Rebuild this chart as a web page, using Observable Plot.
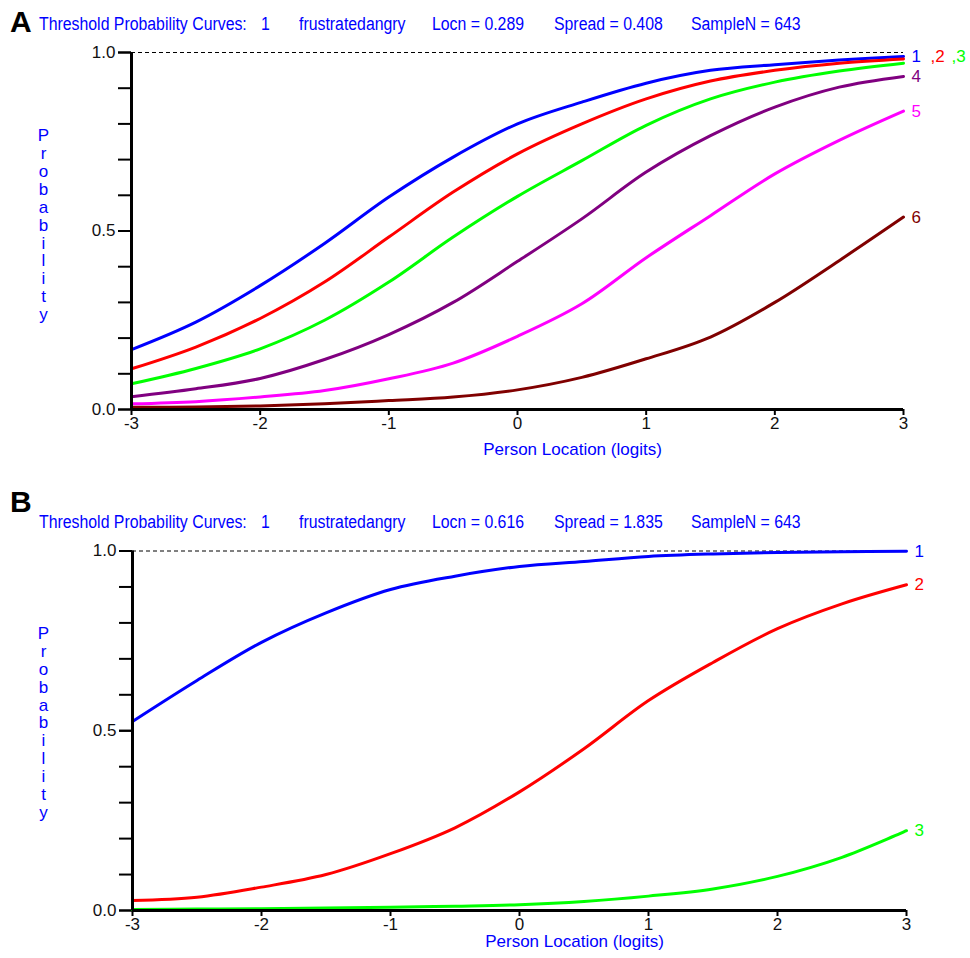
<!DOCTYPE html>
<html>
<head>
<meta charset="utf-8">
<script src="https://cdn.jsdelivr.net/npm/d3@7"></script>
<script src="https://cdn.jsdelivr.net/npm/@observablehq/plot@0.6"></script>
<style>
  body { margin: 0; background: #fff; }
  #wrap { position: relative; width: 970px; height: 958px; overflow: hidden; font-family: "Liberation Sans", Arial, sans-serif; }
  .panel { position: absolute; left: 10px; font-weight: bold; font-size: 30px; line-height: 30px; color: #000; }
  .t { position: absolute; color: #0000ff; font-size: 18px; line-height: 18px; white-space: pre; transform: scaleX(0.88); transform-origin: 0 0; }
  .plot { position: absolute; left: 0; }
</style>
</head>
<body>
<div id="wrap"></div>
<script>
// ---------- data ----------
const xLogits = [-3, -2.5, -2, -1.5, -1, -0.5, 0, 0.5, 1, 1.5, 2, 2.5, 3];

// Panel A : six threshold curves
const thresholdsA = ["1", "2", "3", "4", "5", "6"];
const a1 = [0.168, 0.245, 0.347, 0.465, 0.595, 0.707, 0.800, 0.861, 0.914, 0.950, 0.966, 0.979, 0.989];
const a2 = [0.114, 0.175, 0.255, 0.357, 0.483, 0.609, 0.716, 0.800, 0.870, 0.920, 0.950, 0.970, 0.982];
const a3 = [0.072, 0.115, 0.170, 0.250, 0.357, 0.483, 0.597, 0.697, 0.796, 0.870, 0.917, 0.948, 0.970];
const a4 = [0.036, 0.058, 0.087, 0.140, 0.210, 0.300, 0.415, 0.534, 0.665, 0.767, 0.847, 0.903, 0.933];
const a5 = [0.016, 0.022, 0.035, 0.053, 0.086, 0.130, 0.205, 0.296, 0.425, 0.543, 0.660, 0.754, 0.836];
const a6 = [0.006, 0.007, 0.010, 0.016, 0.025, 0.035, 0.055, 0.090, 0.142, 0.203, 0.300, 0.417, 0.539];
const seriesA = [a1, a2, a3, a4, a5, a6];
const endLabelsA = ["1", ",2", ",3", "4", "5", "6"];
const endLabelKeysA = ["1", "2", "3", "4", "5", "6"];
const endLabelAnchorA = [0, 0, 0, 3, 4, 5];   // which curve's end each label sits beside

// Panel B : three threshold curves
const thresholdsB = ["1", "2", "3"];
const b1 = [0.526, 0.640, 0.746, 0.828, 0.893, 0.930, 0.957, 0.971, 0.985, 0.992, 0.996, 0.998, 0.999];
const b2 = [0.028, 0.037, 0.065, 0.100, 0.158, 0.230, 0.330, 0.450, 0.584, 0.690, 0.784, 0.853, 0.906];
const b3 = [0.003, 0.004, 0.005, 0.007, 0.009, 0.012, 0.016, 0.025, 0.040, 0.060, 0.095, 0.148, 0.222];
const seriesB = [b1, b2, b3];
const endLabelsB = ["1", "2", "3"];
const endLabelKeysB = ["1", "2", "3"];
const endLabelAnchorB = [0, 1, 2];

// axes / text
const xTicks = [-3, -2, -1, 0, 1, 2, 3];
const xTickLabels = ["-3", "-2", "-1", "0", "1", "2", "3"];
const yMajorTicks = [0, 0.5, 1];
const yMajorLabels = ["0.0", "0.5", "1.0"];
const yMinorTicks = [0, 0.1, 0.2, 0.3, 0.4, 0.5, 0.6, 0.7, 0.8, 0.9, 1.0];
const xTitle = "Person Location (logits)";
const yTitle = "Probability";
const titleA = ["Threshold Probability Curves:", "1", "frustratedangry", "Locn = 0.289", "Spread = 0.408", "SampleN = 643"];
const titleB = ["Threshold Probability Curves:", "1", "frustratedangry", "Locn = 0.616", "Spread = 1.835", "SampleN = 643"];
const panelLetters = ["A", "B"];

// ---------- styles ----------
const palette = ["#0000ff", "#ff0000", "#00ff00", "#800080", "#ff00ff", "#800000"];
const BLUE = "#0000ff";
const labelDxA = [8, 27, 48, 8, 8, 8];
const labelDxB = [8, 8, 8];
const titleLefts = [39, 261, 299, 432, 554, 691];

function rowsFrom(series, names) {
  const rows = [];
  series.forEach((vals, k) => vals.forEach((p, i) => rows.push({x: xLogits[i], p, k: names[k]})));
  return rows;
}

function makePlot({series, names, labels, labelKeys, labelAnchor, labelDx, geom}) {
  const last = xLogits.length - 1;
  const endData = labels.map((t, i) => ({t, k: labelKeys[i], anchor: labelAnchor[i], dx: labelDx[i]}));
  return Plot.plot({
    width: 970,
    height: 420,
    marginLeft: geom.ml, marginRight: geom.mr, marginTop: geom.mt, marginBottom: geom.mb,
    x: {domain: [xLogits[0], xLogits[last]]},
    y: {domain: [0, 1]},
    color: {domain: thresholdsA, range: palette},
    style: {fontFamily: '"Liberation Sans", Arial, sans-serif', background: "transparent", overflow: "visible"},
    marks: [
      Plot.ruleY([yMajorTicks[2]], {stroke: "#000", strokeWidth: 1, strokeDasharray: "4,3"}),
      Plot.axisY({ticks: yMinorTicks, tickSize: 13, tickFormat: () => "", stroke: "#000", strokeWidth: 2, label: null}),
      Plot.axisY({ticks: yMajorTicks, tickSize: 13, tickPadding: 3, tickFormat: d => yMajorLabels[yMajorTicks.indexOf(d)],
                  fontSize: 17, fill: "#111", stroke: "#000", strokeWidth: 2, label: null}),
      Plot.axisX({ticks: xTicks, tickSize: 6, tickPadding: 1, tickFormat: d => xTickLabels[xTicks.indexOf(d)],
                  fontSize: 17, fill: "#111", stroke: "#000", strokeWidth: 2, label: null}),
      Plot.line(rowsFrom(series, names), {x: "x", y: "p", z: "k", stroke: "k", strokeWidth: 3, curve: "catmull-rom"}),
      Plot.ruleY([yMajorTicks[0]], {stroke: "#000", strokeWidth: 3}),
      Plot.ruleX([xTicks[0]], {stroke: "#000", strokeWidth: 3}),
      ...endData.map(d => Plot.text([d], {
        x: () => xLogits[last],
        y: e => series[e.anchor][last],
        text: "t", fill: "k", fontSize: 17, textAnchor: "start", dx: d.dx
      })),
      Plot.text([yTitle.split("").join("\n")], {
        frameAnchor: "left", dx: geom.yTitleDx, dy: geom.yTitleDy, textAnchor: "middle", lineAnchor: "middle",
        lineHeight: 1.05, fontSize: 17, fill: BLUE
      }),
      Plot.text([xTitle], {
        frameAnchor: "bottom", dx: geom.xTitleDx, dy: geom.xTitleDy, textAnchor: "middle", lineAnchor: "middle",
        fontSize: 17, fill: BLUE
      })
    ]
  });
}

const wrap = document.getElementById("wrap");

function addTitle(parts, top) {
  parts.forEach((p, i) => {
    const s = document.createElement("div");
    s.className = "t";
    s.style.left = titleLefts[i] + "px";
    s.style.top = top + "px";
    s.textContent = p;
    wrap.appendChild(s);
  });
}
function addLetter(letter, top) {
  const d = document.createElement("div");
  d.className = "panel";
  d.style.top = top + "px";
  d.textContent = letter;
  wrap.appendChild(d);
}

addLetter(panelLetters[0], 7);
addTitle(titleA, 15);
const plotA = makePlot({
  series: seriesA, names: thresholdsA, labels: endLabelsA, labelKeys: endLabelKeysA,
  labelAnchor: endLabelAnchorA, labelDx: labelDxA,
  geom: {ml: 131, mr: 67, mt: 12, mb: 51, yTitleDx: -88, yTitleDy: -6, xTitleDx: 55, xTitleDy: 40}
});
plotA.classList.add("plot");
plotA.style.top = "40px";
wrap.appendChild(plotA);

addLetter(panelLetters[1], 487);
addTitle(titleB, 513);
const plotB = makePlot({
  series: seriesB, names: thresholdsB, labels: endLabelsB, labelKeys: endLabelKeysB,
  labelAnchor: endLabelAnchorB, labelDx: labelDxB,
  geom: {ml: 132, mr: 64, mt: 12.5, mb: 48, yTitleDx: -89, yTitleDy: -8, xTitleDx: 55, xTitleDy: 31}
});
plotB.classList.add("plot");
plotB.style.top = "538px";
wrap.appendChild(plotB);
</script>
</body>
</html>
